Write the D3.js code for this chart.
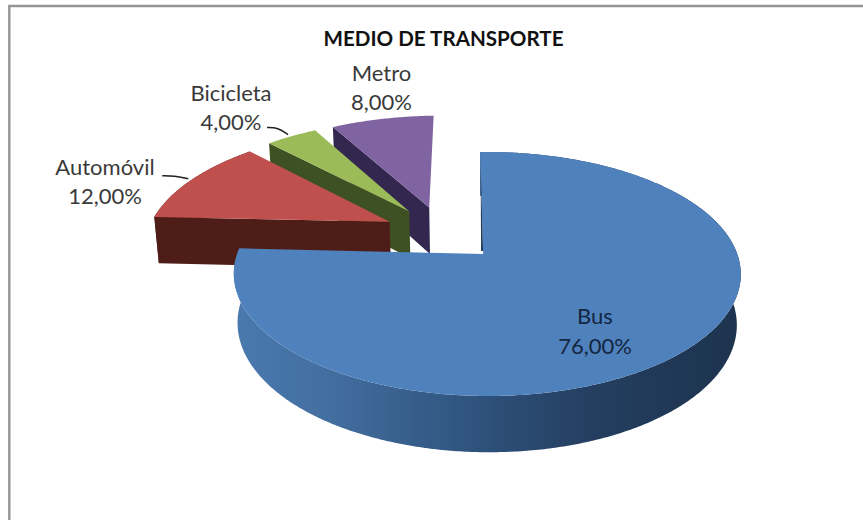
<!DOCTYPE html>
<html><head><meta charset="utf-8">
<script src="https://cdn.jsdelivr.net/npm/d3@7"></script>
<style>html,body{margin:0;padding:0;background:#fff}svg{display:block}text{font-family:Lato,"Open Sans",sans-serif}</style>
</head><body><svg id="c" width="863" height="520"></svg>
<script>
const categories = ["Bus","Automóvil","Bicicleta","Metro"];
const values = [76,12,4,8];
const valueLabels = ["76,00%","12,00%","4,00%","8,00%"];
const title = "MEDIO DE TRANSPORTE";
const topColors = ["#4f81bd","#c0504d","#9bbb59","#8064a2"];
const wallColors = ["#2c4d75","#4f1d18","#3e5122","#33264f"];
// label placement
const labelPos = [[595,324],[105,175],[231,101],[381.5,81]];
const leaderTip = [null,[-5,0],[-6,-1],null];
const leaderBend = [null,[[-26,-3],[-14,-3]],[[-21,-7],[-10,-7]],null];

const svg = d3.select("#c");
const ox=483, oy=254, R=250, B=118.7, PA=0.164, PD=-0.016, H=50, PG=0.015, EXPL=0.248;
const ROT=-0.014;
function project(u,v,z){
  const w=1+PA*v+PD*u+PG*z;
  return [ox+u*R/w, oy+(-B*v+H*z)/w];
}
const pie=d3.pie().sort(null).value(d=>d)(values);
const line=d3.line();
const cx0=-0.169, cy0=0.181;
function slice(p,i){
  const mid=(p.startAngle+p.endAngle)/2;
  return {cx:cx0+EXPL*Math.sin(mid), cy:cy0+EXPL*Math.cos(mid), a0:p.startAngle+ROT, a1:p.endAngle+ROT, mid, r:i===0?1:1.025};
}
function rim(s,a,z){return project(s.cx+s.r*Math.sin(a),s.cy+s.r*Math.cos(a),z);}
function arcPts(s,z,from,to){
  const n=Math.max(2,Math.ceil((to-from)/0.01));
  return d3.range(n+1).map(i=>rim(s,from+(to-from)*i/n,z));
}
// frame
svg.append("path").attr("d",line([[9.3,520],[9.3,6],[863,6]])).attr("fill","none").attr("stroke","#959595").attr("stroke-width",2.4);

const defs=svg.append("defs");
const g=defs.append("linearGradient").attr("id","busSide").attr("gradientUnits","userSpaceOnUse")
  .attr("x1",project(-1,0,0)[0]).attr("x2",project(1,0,0)[0]).attr("y1",0).attr("y2",0);
[[0,"#4a79ae"],[0.2,"#426d9f"],[0.45,"#30557f"],[0.7,"#243f61"],[1,"#1d334e"]].forEach(d=>g.append("stop").attr("offset",d[0]).attr("stop-color",d[1]));

// paint back to front
[3,2,1,0].forEach(i=>{
  const s=slice(pie[i],i);
  const apexT=project(s.cx,s.cy,0), apexB=project(s.cx,s.cy,1);
  const gs=svg.append("g").attr("class","slice");
  const wall=i===0?"url(#busSide)":wallColors[i];
  const top=arcPts(s,0,s.a0,s.a1), bot=arcPts(s,1,s.a0,s.a1);
  // outer side wall: only the two slices whose rim faces the viewer
  if(i<2) gs.append("path").attr("d",line(top.concat(bot.slice().reverse()))+"Z").attr("fill",wall);
  // start radial wall
  if(i>0) gs.append("path").attr("d",line([apexT,rim(s,s.a0,0),rim(s,s.a0,1),apexB])+"Z").attr("fill",wall);
  // top
  gs.append("path").attr("d",line([apexT].concat(top))+"Z").attr("fill",topColors[i]);
  if(i===0){
    // dark sliver of the inner wall along the start edge
    const e=rim(s,s.a0,0);
    const m=[apexT[0]+(e[0]-apexT[0])*0.85,apexT[1]+(e[1]-apexT[1])*0.85];
    const q=[apexT[0]+(e[0]-apexT[0])*0.03,apexT[1]+(e[1]-apexT[1])*0.03];
    gs.append("path").attr("d",line([m,[q[0]-2,q[1]],q])+"Z").attr("fill","#1f3a5c");
  }
});

svg.append("text").attr("x",443.5).attr("y",45.5).attr("text-anchor","middle").attr("font-size",20.6).attr("font-weight",700).attr("fill","#111").text(title);
categories.forEach((c,i)=>{
  const [x,y]=labelPos[i];
  const col=i===0?"#14263f":"#3a3a3a";
  svg.append("text").attr("x",x).attr("y",y).attr("text-anchor","middle").attr("font-size",22).attr("fill",col).text(c);
  svg.append("text").attr("x",x).attr("y",y+(i===0?30:29)).attr("text-anchor","middle").attr("font-size",22).attr("fill",col).text(valueLabels[i]);
});
// leader lines
const curve=d3.line().curve(d3.curveBasis);
[1,2].forEach(i=>{
  const s=slice(pie[i],i);
  const t=rim(s,s.mid,0);
  const off=leaderTip[i], b=leaderBend[i];
  const end=[t[0]+off[0],t[1]+off[1]];
  const pts=[[end[0]+b[0][0],end[1]+b[0][1]],[end[0]+b[0][0],end[1]+b[0][1]],[end[0]+b[1][0],end[1]+b[1][1]],end,end];
  svg.append("path").attr("d",curve(pts)).attr("fill","none").attr("stroke","#222").attr("stroke-width",1.5);
});
</script></body></html>
